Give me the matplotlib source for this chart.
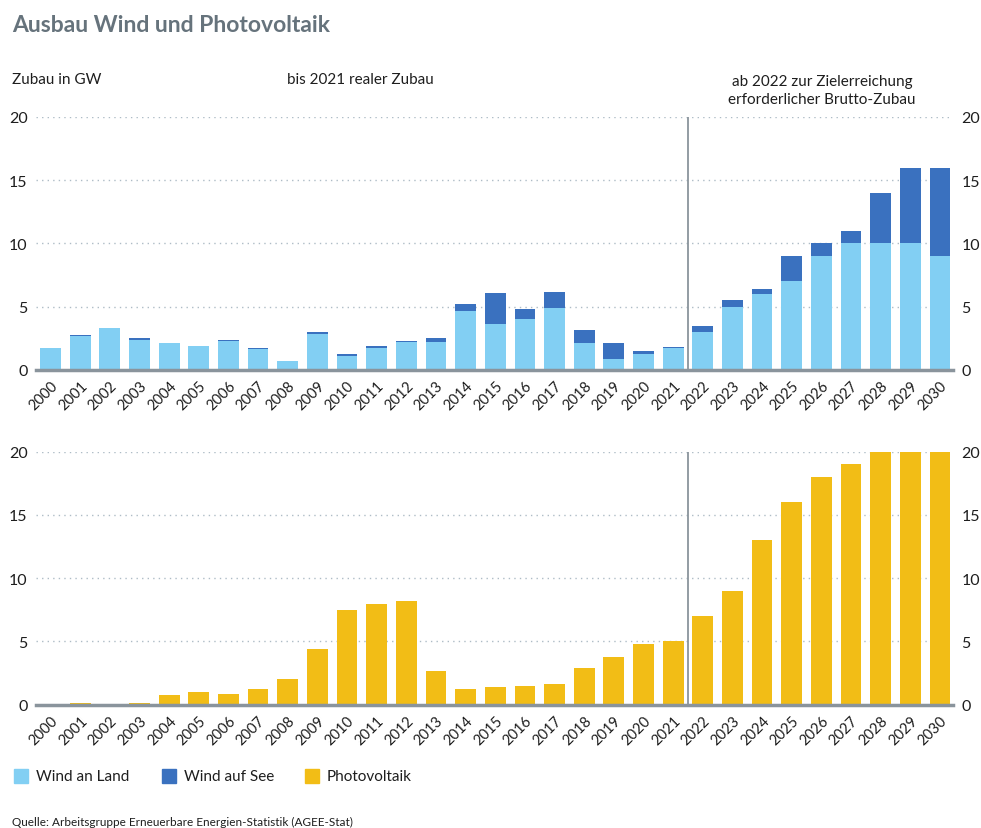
import matplotlib.pyplot as plt
from matplotlib.patches import Rectangle
import numpy as np

plt.rcParams['font.family'] = ['Lato', 'DejaVu Sans']

years = list(range(2000, 2031))
wind_land = [1.74, 2.72, 3.30, 2.37, 2.11, 1.90, 2.32, 1.66, 0.74, 2.85,
             1.10, 1.70, 2.20, 2.24, 4.67, 3.64, 4.04, 4.93, 2.11, 0.84,
             1.24, 1.76, 3.0, 5.0, 6.0, 7.0, 9.0, 10.0, 10.0, 10.0, 9.0]
wind_see = [0.0, 0.03, 0.02, 0.13, 0.0, 0.0, 0.02, 0.07, 0.0, 0.18,
            0.14, 0.17, 0.07, 0.26, 0.53, 2.43, 0.76, 1.27, 1.03, 1.27,
            0.24, 0.03, 0.5, 0.5, 0.4, 2.0, 1.0, 1.0, 4.0, 6.0, 7.0]
photovoltaik = [0.05, 0.1, 0.08, 0.15, 0.74, 0.97, 0.84, 1.24, 2.03, 4.43,
                7.46, 7.98, 8.22, 2.63, 1.24, 1.37, 1.50, 1.60, 2.87, 3.77,
                4.80, 5.06, 7.0, 9.0, 13.0, 16.0, 18.0, 19.0, 20.0, 20.0, 20.0]
y_ticks = [0, 5, 10, 15, 20]

c_land = '#82cff3'
c_see = '#3a71bf'
c_pv = '#f2bd16'
c_grid = '#aebcc6'
c_axis = '#8a949c'
c_text = '#1e1e1e'

fig = plt.figure(figsize=(9.81, 8.29), dpi=100)

x = np.arange(len(years))


def style_axis(ax):
    ax.set_xlim(-0.49, 30.44)
    ax.set_ylim(0, 20)
    for s in ax.spines.values():
        s.set_visible(False)
    ax.set_yticks(y_ticks)
    ax.yaxis.grid(True, linestyle=(0, (1, 3)), color=c_grid, linewidth=1.0)
    ax.set_axisbelow(True)
    ax.tick_params(axis='y', length=0, labelleft=True, labelright=True,
                   labelsize=11.5, labelcolor=c_text, pad=6)
    ax.set_xticks(x)
    ax.set_xticklabels([str(y) for y in years], rotation=45, ha='right',
                       rotation_mode='anchor', fontsize=10.5, color=c_text)
    ax.tick_params(axis='x', length=0, pad=6)
    ax.axhline(0, color=c_axis, linewidth=2.5, zorder=5, clip_on=False)
    ax.plot([21.5, 21.5], [0, 20], color=c_axis, linewidth=1.3, zorder=4)


ax1 = fig.add_axes([0.0367, 0.5525, 0.9348, 0.3052])
ax1.bar(x, wind_land, width=0.7, color=c_land, zorder=3)
ax1.bar(x, wind_see, width=0.7, bottom=wind_land, color=c_see, zorder=3)
style_axis(ax1)

ax2 = fig.add_axes([0.0367, 0.1487, 0.9348, 0.3052])
ax2.bar(x, photovoltaik, width=0.7, color=c_pv, zorder=3)
style_axis(ax2)

fig.text(12 / 981, 1 - 25 / 829, 'Ausbau Wind und Photovoltaik', fontsize=16.5,
         fontweight='bold', color='#66737c', va='center', ha='left')
fig.text(12 / 981, 1 - 80 / 829, 'Zubau in GW', fontsize=11, color=c_text,
         va='center', ha='left')
fig.text(360 / 981, 1 - 80 / 829, 'bis 2021 realer Zubau', fontsize=11,
         color=c_text, va='center', ha='center')
fig.text(822 / 981, 1 - 91 / 829, 'ab 2022 zur Zielerreichung\nerforderlicher Brutto-Zubau',
         fontsize=11, color=c_text, va='center', ha='center', linespacing=1.3)

legend_items = [('Wind an Land', c_land, 14), ('Wind auf See', c_see, 162),
                ('Photovoltaik', c_pv, 305)]
for label, col, px in legend_items:
    fig.patches.append(Rectangle((px / 981, 1 - 784 / 829), 14 / 981, 14 / 829,
                                 transform=fig.transFigure, color=col))
    fig.text((px + 22) / 981, 1 - 777 / 829, label, fontsize=11, color=c_text,
             va='center', ha='left')

fig.text(12 / 981, 1 - 822 / 829,
         'Quelle: Arbeitsgruppe Erneuerbare Energien-Statistik (AGEE-Stat)',
         fontsize=8.5, color=c_text, va='center', ha='left')

fig.savefig('out.png', dpi=100)
